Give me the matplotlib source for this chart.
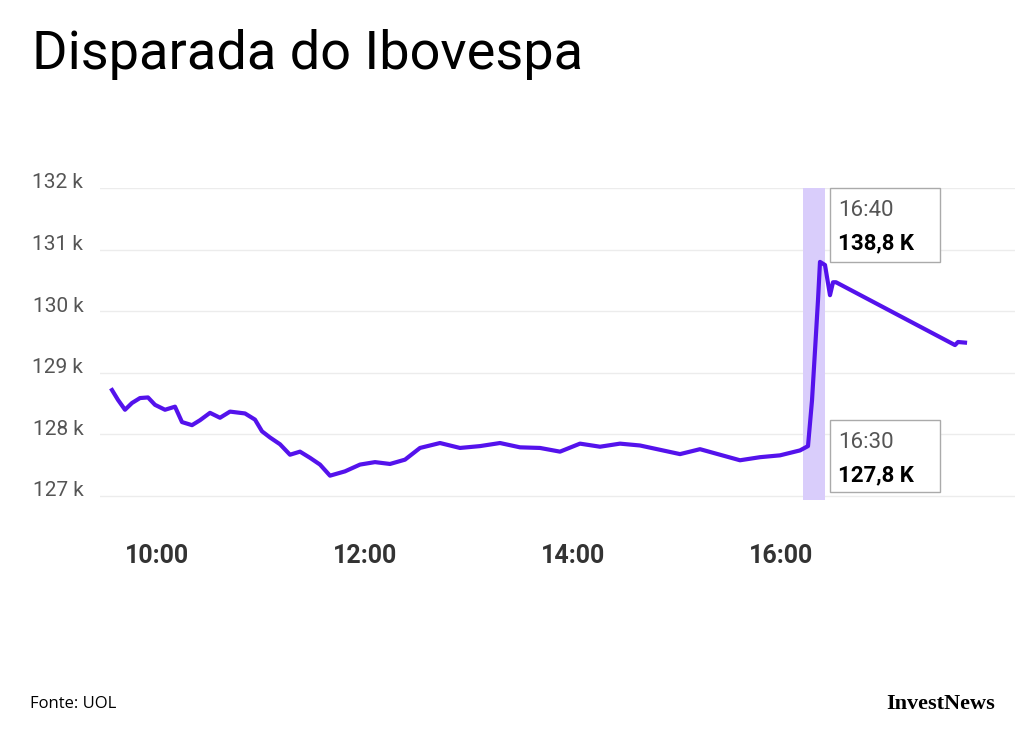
import matplotlib
matplotlib.use("Agg")
import matplotlib.pyplot as plt
from matplotlib.patches import Rectangle
import matplotlib.transforms as mtransforms

px_x = [112,118,125,132,140,148,155,165,175,182,192,200,210,220,230,245,255,262,270,280,290,300,310,320,330,345,360,375,390,405,420,440,460,480,500,520,540,560,580,600,620,640,660,680,700,720,740,760,780,800,808,812,815,818,820,825,830,833,836,955,958,965]
vals = [128.72,128.56,128.40,128.51,128.59,128.6,128.48,128.40,128.45,128.2,128.15,128.23,128.35,128.27,128.37,128.34,128.24,128.05,127.95,127.84,127.67,127.72,127.62,127.51,127.33,127.4,127.51,127.55,127.52,127.59,127.78,127.86,127.78,127.81,127.86,127.79,127.78,127.72,127.85,127.8,127.85,127.82,127.75,127.68,127.76,127.67,127.58,127.63,127.66,127.74,127.81,128.55,129.36,130.18,130.80,130.75,130.26,130.47,130.47,129.45,129.5,129.49]
hours = [10 + (x - 157) / 104 for x in px_x]
yticks = [127, 128, 129, 130, 131, 132]
ytick_labels = ["127 k", "128 k", "129 k", "130 k", "131 k", "132 k"]
xticks = [10, 12, 14, 16]
xtick_labels = ["10:00", "12:00", "14:00", "16:00"]

W, H = 1024, 743
fig = plt.figure(figsize=(10.24, 7.43), dpi=100)
ax = fig.add_axes([100/W, 1-500/H, 915/W, 312/H])
ax.set_xlim(10 + (100-157)/104, 10 + (1015-157)/104)
ax.set_ylim(126.935, 132.0)
for y in yticks:
    ax.axhline(y, color="#ececec", lw=1, zorder=0)
ax.axvspan(10 + (803-157)/104, 10 + (825-157)/104, color="#d9cdfb", zorder=1, lw=0)
ax.plot(hours, vals, color="#5412ec", lw=3, zorder=3, solid_joinstyle="round")
for s in ax.spines.values():
    s.set_visible(False)
ax.set_yticks(yticks)
ax.set_yticklabels(ytick_labels, fontsize=15, color="#555555", family="Roboto")
ax.set_xticks(xticks)
ax.set_xticklabels(xtick_labels, fontsize=18, color="#333333", fontweight="bold", family="Roboto")
ax.tick_params(axis="y", length=0, pad=12)
ax.tick_params(axis="x", length=0, pad=32)
off = mtransforms.ScaledTranslation(0, 7/100, fig.dpi_scale_trans)
for lab in ax.get_yticklabels():
    lab.set_transform(lab.get_transform() + off)

def box(x0, y0, x1, y1, t1, t2):
    fig.patches.append(Rectangle((x0/W, 1-y1/H), (x1-x0)/W, (y1-y0)/H, transform=fig.transFigure,
                                 fc="white", ec="#aaaaaa", lw=1, zorder=5))
    fig.text((x0+8)/W, 1-(y0+22)/H, t1, fontsize=16, color="#555555", family="Roboto", va="center", zorder=6)
    fig.text((x0+8)/W, 1-(y0+55)/H, t2, fontsize=16, color="black", fontweight="bold", family="Roboto", va="center", zorder=6)

box(830, 188, 940, 262, "16:40", "138,8 K")
box(830, 420, 940, 492, "16:30", "127,8 K")

fig.text(32/W, 1-55/H, "Disparada do Ibovespa", fontsize=39, family="Roboto", va="center", color="black")
fig.text(30/W, 1-704/H, "Fonte: UOL", fontsize=12, family="Open Sans", va="center")
fig.text(995/W, 1-704/H, "InvestNews", fontsize=16, family="Liberation Serif", fontweight="bold", ha="right", va="center")
fig.savefig("out.png", dpi=100)
